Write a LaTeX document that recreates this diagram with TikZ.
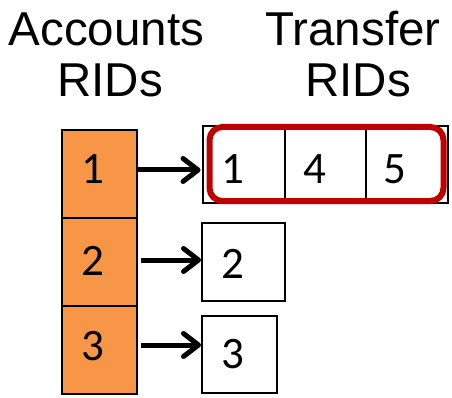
\documentclass[tikz,border=0pt]{standalone}
\usepackage{fontspec}
\setmainfont{Liberation Sans}
\newfontfamily\digitfont{Carlito}
\usetikzlibrary{arrows.meta}
\definecolor{ridorange}{HTML}{F79646}
\definecolor{ridred}{HTML}{C00000}
\begin{document}
\begin{tikzpicture}[x=1pt,y=-1pt,
  head/.style={anchor=base,inner sep=0pt,font=\fontsize{47.5}{50}\selectfont},
  acct/.style={draw=black,line width=2pt,fill=ridorange,minimum width=75pt,minimum height=88pt,inner sep=0pt},
  xfer/.style={draw=black,line width=2pt,fill=white,inner sep=0pt},
  num/.style={anchor=base,inner sep=0pt,font=\digitfont\fontsize{45}{48}\selectfont},
  arr/.style={line width=5pt,-{Straight Barb[length=15pt,width=23pt,line width=5pt,round]}}]
\useasboundingbox (0,0) rectangle (452,398);

% column headings
\node[head] (hA) at (106.5,46) {Accounts};
\node[head] (hAr) at (110,97) {RIDs};
\node[head] (hT) at (353,46) {Transfer};
\node[head] (hTr) at (358,97) {RIDs};

% account RID cells
\node[acct] (a1) at (99.5,174) {};
\node[acct] (a2) at (99.5,262) {};
\node[acct] (a3) at (99.5,350) {};
\node[num] (n1) at (93,184) {1};
\node[num] (n2) at (93,275) {2};
\node[num] (n3) at (93,360) {3};

% transfer RID lists
\node[xfer,minimum width=82pt,minimum height=77pt] (c1) at (244,164.5) {};
\node[xfer,minimum width=81pt,minimum height=77pt] (c2) at (325.5,164.5) {};
\node[xfer,minimum width=82pt,minimum height=77pt] (c3) at (407,164.5) {};
\node[xfer,minimum width=83pt,minimum height=78pt] (t2) at (243.5,262) {};
\node[xfer,minimum width=75pt,minimum height=77pt] (t3) at (239.5,354.5) {};
\node[num] (m1) at (233,184) {1};
\node[num] (m4) at (315,184) {4};
\node[num] (m5) at (395,184) {5};
\node[num] (m2) at (233,278) {2};
\node[num] (m3) at (233,368) {3};

% highlight around the first list
\node[draw=ridred,line width=6pt,rounded corners=13pt,minimum width=234pt,minimum height=74pt,inner sep=0pt] (hl) at (326.5,164) {};

% pointers
\coordinate (s1) at ([yshift=4pt]a1.east);
\coordinate (s2) at ([yshift=2pt,xshift=3pt]a2.east);
\coordinate (s3) at ([yshift=5pt,xshift=3pt]a3.east);
\draw[arr,shorten >=1.5pt] (s1) -- (s1 -| c1.west);
\draw[arr] (s2) -- (s2 -| t2.west);
\draw[arr] (s3) -- (s3 -| t3.west);
\end{tikzpicture}
\end{document}
